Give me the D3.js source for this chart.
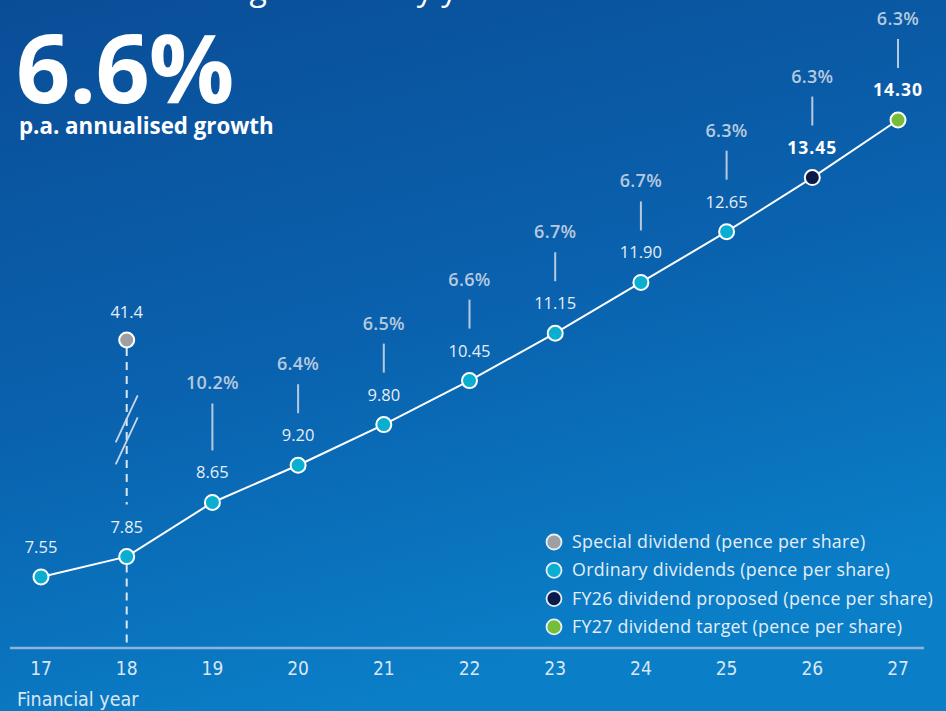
<!DOCTYPE html>
<html>
<head>
<meta charset="utf-8">
<script src="https://cdn.jsdelivr.net/npm/d3@7"></script>
<style>
  html, body { margin: 0; padding: 0; background: #0a5aa6; }
  svg { display: block; }
</style>
</head>
<body>
<div id="chart"></div>
<script>
// data
const years = [17, 18, 19, 20, 21, 22, 23, 24, 25, 26, 27]
const dividends = [7.55, 7.85, 8.65, 9.20, 9.80, 10.45, 11.15, 11.90, 12.65, 13.45, 14.30]
const growthLabels = [null, null, "10.2%", "6.4%", "6.5%", "6.6%", "6.7%", "6.7%", "6.3%", "6.3%", "6.3%"]
const pointKinds = ["ordinary", "ordinary", "ordinary", "ordinary", "ordinary", "ordinary", "ordinary", "ordinary", "ordinary", "proposed", "target"]
const specialYear = 18
const specialValue = 41.4
const legendLabels = [
  ["special", "Special dividend (pence per share)"],
  ["ordinary", "Ordinary dividends (pence per share)"],
  ["proposed", "FY26 dividend proposed (pence per share)"],
  ["target", "FY27 dividend target (pence per share)"]
]

const width = 946, height = 711
const colors = {
  special: "#9d9fa2",
  ordinary: "#0aaed0",
  proposed: "#0b1a4a",
  target: "#76bd3a"
}
const labelColor = "#e6eef7"
const pctColor = "#b6c9df"
const font = "'Open Sans', sans-serif"
const narrow = "'Liberation Sans Narrow', 'DejaVu Sans Condensed', sans-serif"

const svg = d3.select("#chart").append("svg")
  .attr("width", width)
  .attr("height", height)
  .attr("viewBox", [0, 0, width, height])

const defs = svg.append("defs")
const grad = defs.append("linearGradient")
  .attr("id", "bg")
  .attr("x1", 0).attr("y1", 0).attr("x2", 0.35).attr("y2", 1)
grad.append("stop").attr("offset", 0).attr("stop-color", "#0a4d97")
grad.append("stop").attr("offset", 0.55).attr("stop-color", "#0a62ae")
grad.append("stop").attr("offset", 1).attr("stop-color", "#0a7ec7")
svg.append("rect").attr("width", width).attr("height", height).attr("fill", "url(#bg)")

const x = d3.scaleLinear().domain([17, 27]).range([41, 898])
const y = d3.scaleLinear().domain([6.5, 14.3]).range([648, 120])
// broken axis for the special dividend
const ySpecial = d3.scaleLinear().domain([7.85, specialValue]).range([y(7.85), y(11.05)])

// heading (cut off at top)
svg.append("text")
  .attr("x", 48).attr("y", 0)
  .attr("fill", "#ffffff")
  .attr("font-family", font)
  .attr("font-size", 32)
  .text("Dividend has grown every year")

svg.append("text")
  .attr("x", 16).attr("y", 103)
  .attr("fill", "#ffffff")
  .attr("font-family", font)
  .attr("font-weight", 700)
  .attr("font-size", 95)
  .attr("letter-spacing", -1)
  .text("6.6%")

svg.append("text")
  .attr("x", 19).attr("y", 134)
  .attr("fill", "#ffffff")
  .attr("font-family", font)
  .attr("font-weight", 700)
  .attr("font-size", 22.3)
  .text("p.a. annualised growth")

// x axis
const axisG = svg.append("g").attr("transform", `translate(0,${y(6.5)})`)
axisG.append("line")
  .attr("x1", 10).attr("x2", 924)
  .attr("stroke", "#8fb3d6").attr("stroke-width", 2.5)
axisG.selectAll("text.tick")
  .data(years)
  .join("text")
  .attr("class", "tick")
  .attr("x", d => x(d))
  .attr("y", 27)
  .attr("text-anchor", "middle")
  .attr("fill", "#dbe6f2")
  .attr("font-family", narrow)
  .attr("font-size", 19)
  .text(d => d)
svg.append("text")
  .attr("x", 17).attr("y", 706)
  .attr("fill", "#dbe6f2")
  .attr("font-family", narrow)
  .attr("font-size", 19.5)
  .text("Financial year")

// special dividend dashed stem (interrupted by the 7.85 label) and break marks
const sx = x(specialYear)
const stemSegments = [
  [ySpecial(specialValue) + 8, y(7.85) - 52],
  [y(7.85) + 8, y(6.5)]
]
svg.selectAll("line.stem")
  .data(stemSegments)
  .join("line")
  .attr("class", "stem")
  .attr("x1", sx).attr("x2", sx)
  .attr("y1", d => d[0]).attr("y2", d => d[1])
  .attr("stroke", "#dbe6f2").attr("stroke-width", 2)
  .attr("stroke-dasharray", "8,6")
const breakMid = (ySpecial(specialValue) + y(7.85)) / 2 - 19
;[-11, 11].forEach(off => {
  svg.append("line")
    .attr("x1", sx - 11).attr("y1", breakMid + off + 24)
    .attr("x2", sx + 11).attr("y2", breakMid + off - 23)
    .attr("stroke", "#c9d8e8").attr("stroke-width", 1.8)
})

// line
const data = years.map((yr, i) => ({ year: yr, value: dividends[i], growth: growthLabels[i], kind: pointKinds[i], i }))
svg.append("path")
  .datum(data)
  .attr("fill", "none")
  .attr("stroke", "#ffffff")
  .attr("stroke-width", 2)
  .attr("d", d3.line().x(d => x(d.year)).y(d => y(d.value)))

// growth labels and stems
const firstGrowth = data.findIndex(d => d.growth)
data.filter(d => d.growth).forEach(d => {
  const cx = x(d.year)
  const valY = y(d.value) - 30
  const lineBottom = valY - 22
  const lineTop = lineBottom - (d.i === firstGrowth ? 47 : 29)
  svg.append("line")
    .attr("x1", cx).attr("x2", cx)
    .attr("y1", lineTop).attr("y2", lineBottom)
    .attr("stroke", pctColor).attr("stroke-width", 2)
  svg.append("text")
    .attr("x", cx).attr("y", lineTop - 14)
    .attr("text-anchor", "middle")
    .attr("fill", pctColor)
    .attr("font-family", font)
    .attr("font-weight", 600)
    .attr("font-size", 18)
    .attr("letter-spacing", 0.3)
    .text(d.growth)
})

// value labels
svg.selectAll("text.val")
  .data(data)
  .join("text")
  .attr("class", "val")
  .attr("x", d => x(d.year))
  .attr("y", d => y(d.value) - 24)
  .attr("text-anchor", "middle")
  .attr("fill", d => d.kind === "ordinary" ? labelColor : "#ffffff")
  .attr("font-family", font)
  .attr("font-weight", d => d.kind === "ordinary" ? 400 : 700)
  .attr("font-size", d => d.kind === "ordinary" ? 16.5 : 17.5)
  .attr("letter-spacing", d => d.kind === "ordinary" ? 0 : 1)
  .text(d => d.value.toFixed(2))

svg.append("text")
  .attr("x", sx).attr("y", ySpecial(specialValue) - 22)
  .attr("text-anchor", "middle")
  .attr("fill", labelColor)
  .attr("font-family", font)
  .attr("font-size", 16.5)
  .text(specialValue)

// points
svg.append("circle")
  .attr("cx", sx).attr("cy", ySpecial(specialValue))
  .attr("r", 7.5)
  .attr("fill", colors.special)
  .attr("stroke", "#ffffff").attr("stroke-width", 2)
svg.selectAll("circle.pt")
  .data(data)
  .join("circle")
  .attr("class", "pt")
  .attr("cx", d => x(d.year))
  .attr("cy", d => y(d.value))
  .attr("r", 7.5)
  .attr("fill", d => colors[d.kind])
  .attr("stroke", "#ffffff").attr("stroke-width", 2)

// legend
const legend = svg.append("g").attr("transform", "translate(554,542)")
const rows = legend.selectAll("g")
  .data(legendLabels)
  .join("g")
  .attr("transform", (d, i) => `translate(0,${i * 28.3})`)
rows.append("circle")
  .attr("r", 7.5)
  .attr("fill", d => colors[d[0]])
  .attr("stroke", "#e8eef6").attr("stroke-width", 1.8)
rows.append("text")
  .attr("x", 18).attr("y", 6)
  .attr("fill", labelColor)
  .attr("font-family", font)
  .attr("font-size", 17.8)
  .attr("letter-spacing", 0.3)
  .text(d => d[1])
</script>
</body>
</html>
